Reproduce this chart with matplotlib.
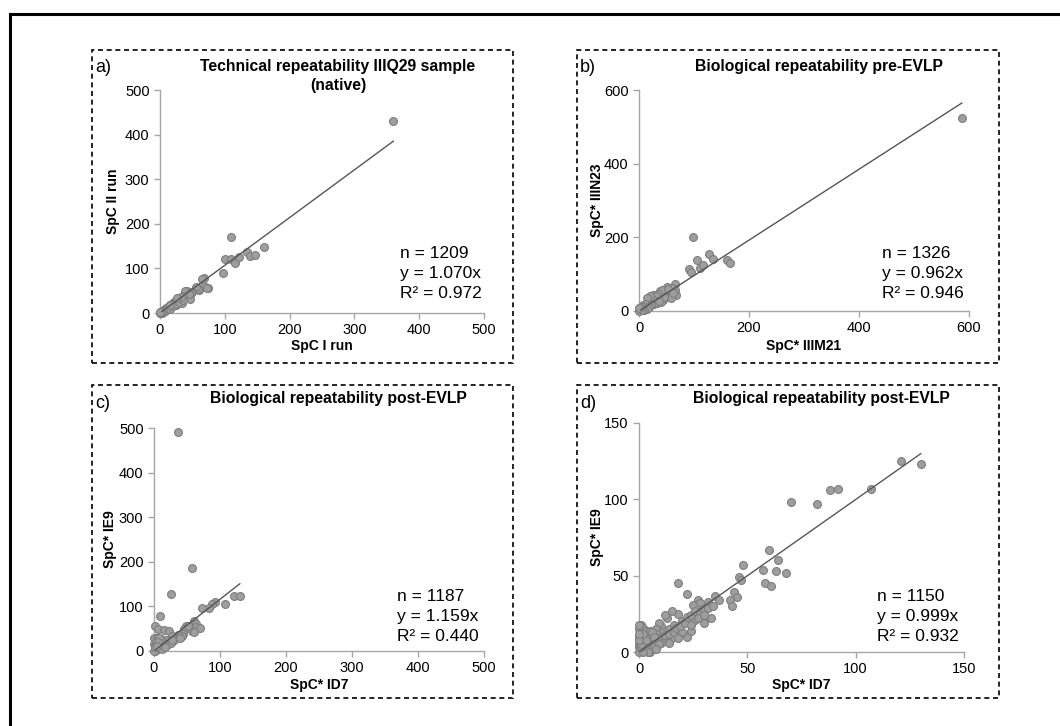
import matplotlib
matplotlib.use("Agg")
import matplotlib.pyplot as plt
from matplotlib.patches import Rectangle
from matplotlib.lines import Line2D

plt.rcParams['font.family'] = ['Liberation Sans', 'DejaVu Sans']

# ---------------- data ----------------
# Panel a: technical repeatability IIIQ29 (native)
a_x = [360, 110, 160, 100, 97, 110, 115, 122, 135, 139, 146, 68, 68, 74, 60, 65, 59, 73,
       40, 41, 46, 34, 24, 14, 6, 55, 50, 48, 42, 38, 45, 36, 30, 28, 25, 22, 20, 18, 15,
       12, 10, 8, 6, 5, 3, 2, 1, 0, 12, 15, 20, 25, 30, 8, 5, 3, 10, 35, 32, 27, 16, 4, 1, 0]
a_y = [430, 171, 148, 122, 90, 120, 113, 126, 137, 127, 131, 79, 60, 57, 52, 77, 53, 55,
       45, 40, 32, 23, 19, 13, 6, 58, 48, 44, 50, 50, 42, 38, 33, 30, 28, 25, 22, 20, 17,
       14, 12, 10, 7, 5, 4, 2, 1, 0, 8, 10, 15, 20, 25, 4, 2, 1, 6, 30, 35, 33, 19, 3, 3, 2]
a_slope = 1.070
a_n, a_r2 = 1209, 0.972

# Panel b: biological repeatability pre-EVLP
b_x = [587, 98, 90, 95, 106, 110, 117, 128, 135, 160, 165, 66, 68, 65, 50, 38, 26, 17, 8, 2,
       60, 55, 48, 45, 42, 35, 30, 25, 20, 15, 12, 10, 6, 4, 1, 0, 58, 52, 44, 40, 33, 28, 22,
       18, 14, 9, 5, 3, 0, 62, 46, 36]
b_y = [523, 201, 115, 105, 138, 118, 126, 154, 140, 138, 131, 72, 44, 58, 64, 53, 44, 30, 16, 7,
       62, 52, 48, 40, 58, 45, 40, 30, 42, 35, 20, 12, 8, 5, 2, 0, 35, 60, 30, 25, 22, 18, 15,
       10, 5, 3, 2, 12, 8, 50, 38, 28]
b_slope = 0.962
b_n, b_r2 = 1326, 0.946

# Panel c: biological repeatability post-EVLP (full range)
c_x = [37, 58, 25, 9, 2, 6, 15, 22, 121, 131, 108, 93, 88, 83, 72, 60, 64, 63, 70, 58, 61,
       48, 46, 44, 42, 36, 33, 27, 22, 18, 15, 12, 10, 8, 5, 3, 1, 0, 0, 0, 5, 10, 3, 8, 14,
       20, 25, 30, 12, 17, 6, 2, 40, 52, 28, 4]
c_y = [492, 187, 127, 78, 55, 50, 48, 44, 124, 124, 106, 109, 106, 97, 97, 68, 60, 53, 52, 45, 42,
       57, 49, 39, 34, 36, 32, 34, 20, 25, 12, 22, 15, 10, 5, 3, 1, 0, 30, 15, 30, 28, 20, 30, 8,
       14, 18, 24, 5, 10, 20, 10, 30, 55, 25, 12]
c_slope = 1.159
c_n, c_r2 = 1187, 0.440

# Panel d: biological repeatability post-EVLP (zoomed)
d_x = [130, 121, 107, 92, 88, 82, 70, 60, 64, 63, 68, 57, 58, 61, 48, 46, 47, 44, 45, 42, 43,
       35, 37, 32, 27, 28, 18, 22, 22, 25, 29, 31, 33, 30, 26, 24, 20, 18, 15, 13, 12, 10, 9,
       8, 8, 10, 14, 16, 18, 20, 15, 12, 10, 7, 6, 5, 4, 3, 2, 1, 0, 0, 0, 0, 1, 2, 3, 0, 1,
       2, 3, 5, 6, 7, 9, 4, 5, 6, 7, 11, 12, 14, 16, 17, 19, 21, 22, 24, 26, 28, 30, 32, 34,
       24, 27, 30, 18, 14, 8, 4, 2, 1, 1, 3, 2, 0, 0, 0]
d_y = [123, 125, 107, 107, 106, 97, 98, 67, 60, 53, 52, 54, 45, 43, 57, 49, 47, 39, 36, 34, 30,
       37, 34, 33, 34, 32, 45, 38, 10, 31, 28, 22, 22, 19, 21, 14, 20, 25, 27, 22, 24, 17, 19,
       15, 12, 10, 15, 18, 15, 13, 9, 8, 6, 8, 5, 10, 6, 4, 2, 1, 0, 5, 10, 15, 18, 16, 14, 3, 8,
       6, 1, 0, 2, 3, 5, 12, 14, 13, 10, 13, 11, 12, 13, 16, 17, 19, 23, 24, 27, 25, 27, 29, 30,
       18, 22, 24, 9, 6, 2, 0, 0, 3, 5, 8, 12, 18, 8, 12]
d_slope = 0.999
d_n, d_r2 = 1150, 0.932

W, H = 1060, 726

fig = plt.figure(figsize=(W / 100, H / 100), dpi=100)
fig.patch.set_facecolor('white')


def fx(px):
    return px / W


def fy(py):
    return 1 - py / H


# outer border (left and top visible)
fig.add_artist(Line2D([fx(10), fx(10)], [fy(14), 0], color='black', lw=2.2, transform=fig.transFigure))
fig.add_artist(Line2D([fx(10), 1], [fy(14), fy(14)], color='black', lw=2.2, transform=fig.transFigure))

panels = [
    dict(box=(92, 50, 513, 363), ax=(160, 90, 484, 313),
         x=a_x, y=a_y, slope=a_slope, n=a_n, r2=a_r2, xmax=500, ymax=500,
         xticks=[0, 100, 200, 300, 400, 500], yticks=[0, 100, 200, 300, 400, 500],
         title="Technical repeatability IIIQ29 sample\n(native)", title_xy=(338, 59),
         label="a)", xlabel="SpC I run", ylabel="SpC II run", ylab_x=113, xlab_y=346,
         ann_xy=(400, 246), xline_max=360, line_x0=3),
    dict(box=(577, 50, 999, 363), ax=(639, 90, 969, 311),
         x=b_x, y=b_y, slope=b_slope, n=b_n, r2=b_r2, xmax=600, ymax=600,
         xticks=[0, 200, 400, 600], yticks=[0, 200, 400, 600],
         title="Biological repeatability pre-EVLP", title_xy=(819, 59),
         label="b)", xlabel="SpC* IIIM21", ylabel="SpC* IIIN23", ylab_x=597, xlab_y=346,
         ann_xy=(882, 246), xline_max=587, line_x0=3),
    dict(box=(92, 385, 513, 698), ax=(154, 428, 484, 651),
         x=c_x, y=c_y, slope=c_slope, n=c_n, r2=c_r2, xmax=500, ymax=500,
         xticks=[0, 100, 200, 300, 400, 500], yticks=[0, 100, 200, 300, 400, 500],
         title="Biological repeatability post-EVLP", title_xy=(338, 391),
         label="c)", xlabel="SpC* ID7", ylabel="SpC* IE9", ylab_x=110, xlab_y=685,
         ann_xy=(397, 589), xline_max=130, line_x0=2),
    dict(box=(577, 385, 999, 698), ax=(639, 423, 964, 652),
         x=d_x, y=d_y, slope=d_slope, n=d_n, r2=d_r2, xmax=150, ymax=150,
         xticks=[0, 50, 100, 150], yticks=[0, 50, 100, 150],
         title="Biological repeatability post-EVLP", title_xy=(821, 391),
         label="d)", xlabel="SpC* ID7", ylabel="SpC* IE9", ylab_x=597, xlab_y=685,
         ann_xy=(877, 589), xline_max=130, line_x0=0.5),
]

for p in panels:
    bx0, by0, bx1, by1 = p['box']
    fig.add_artist(Rectangle((fx(bx0), fy(by1)), fx(bx1) - fx(bx0), fy(by0) - fy(by1),
                             transform=fig.transFigure, fill=False, edgecolor='black',
                             lw=1.2, linestyle=(0, (3, 2.2))))
    ax0, ay0, ax1, ay1 = p['ax']
    ax = fig.add_axes([fx(ax0), fy(ay1), fx(ax1) - fx(ax0), fy(ay0) - fy(ay1)])
    ax.set_xlim(0, p['xmax'])
    ax.set_ylim(0, p['ymax'])
    ax.set_xticks(p['xticks'])
    ax.set_yticks(p['yticks'])
    for s in ['top', 'right']:
        ax.spines[s].set_visible(False)
    for s in ['left', 'bottom']:
        ax.spines[s].set_color('#a6a6a6')
        ax.spines[s].set_linewidth(1.0)
    ax.tick_params(axis='both', colors='#a6a6a6', labelcolor='black', labelsize=10.5,
                   length=4, width=1, direction='out')
    ax.scatter(p['x'], p['y'], s=32, facecolor='#9e9e9e', edgecolor='#7d7d7d',
               linewidths=0.8, clip_on=False, zorder=3)
    lx = [p['line_x0'], p['xline_max']]
    ly = [v * p['slope'] for v in lx]
    ax.plot(lx, ly, color='#555555', lw=1.0, zorder=4)

    ax.set_xlabel(p['xlabel'], fontsize=10, fontweight='bold')
    ax.xaxis.set_label_coords(0.5, -(p['xlab_y'] - ay1) / (ay1 - ay0))
    ax.xaxis.label.set_verticalalignment('center')
    ax.set_ylabel(p['ylabel'], fontsize=10, fontweight='bold')
    ax.yaxis.set_label_coords((p['ylab_x'] - ax0) / (ax1 - ax0), 0.5)
    ax.yaxis.label.set_verticalalignment('center')

    tx, ty = p['title_xy']
    fig.text(fx(tx), fy(ty), p['title'], ha='center', va='top', fontsize=11.3,
             fontweight='bold', linespacing=1.3)
    fig.text(fx(bx0 + 3), fy(by0 + 18), p['label'], ha='left', va='center', fontsize=13)

    ax_, ay_ = p['ann_xy']
    txt = "n = %d\ny = %.3fx\nR² = %.3f" % (p['n'], p['slope'], p['r2'])
    fig.text(fx(ax_), fy(ay_), txt, ha='left', va='top', fontsize=12.5, linespacing=1.4)

fig.savefig('out.png', dpi=100, facecolor='white')
